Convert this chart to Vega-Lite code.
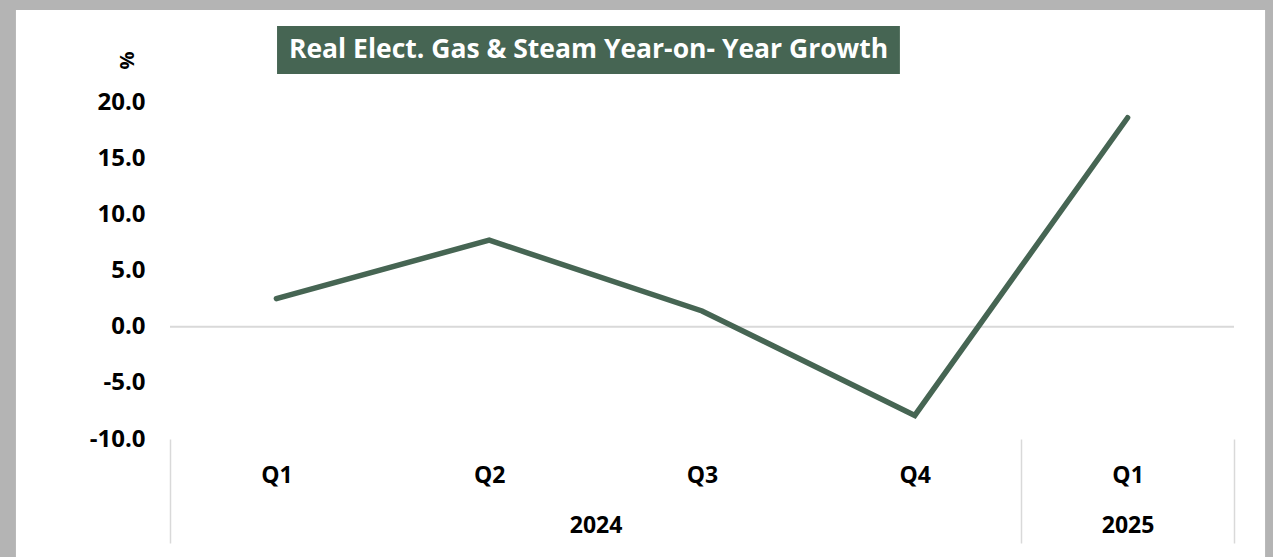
{
  "$schema": "https://vega.github.io/schema/vega-lite/v6.json",
  "width": 1064,
  "height": 337,
  "autosize": {"type": "none"},
  "padding": {"left": 170, "top": 102, "right": 39, "bottom": 118},
  "background": "#b4b4b4",
  "config": {"view": {"stroke": null}, "font": "Open Sans"},
  "data": {"values": [
    {"q": 1, "quarter": "Q1", "year": "2024", "value": 2.5},
    {"q": 2, "quarter": "Q2", "year": "2024", "value": 7.7},
    {"q": 3, "quarter": "Q3", "year": "2024", "value": 1.4},
    {"q": 4, "quarter": "Q4", "year": "2024", "value": -7.9},
    {"q": 5, "quarter": "Q1", "year": "2025", "value": 18.6}
  ]},
  "resolve": {"axis": {"x": "independent", "y": "independent"}},
  "layer": [
    {
      "data": {"values": [{}]},
      "mark": {"type": "rect", "color": "white"},
      "encoding": {
        "x": {"datum": -0.224, "type": "quantitative", "scale": {"domain": [0.5, 5.5], "nice": false, "zero": false}, "axis": null},
        "x2": {"datum": 5.646},
        "y": {"datum": 28.19, "type": "quantitative", "scale": {"domain": [-10, 20], "nice": false, "zero": false}, "axis": null},
        "y2": {"datum": -25}
      }
    },
    {
      "data": {"values": [{}]},
      "mark": {"type": "rule", "color": "#d9d9d9", "strokeWidth": 2},
      "encoding": {
        "y": {"datum": 0, "type": "quantitative", "scale": {"domain": [-10, 20], "nice": false, "zero": false}, "axis": null}
      }
    },
    {
      "data": {"values": [{}]},
      "mark": {"type": "rect", "color": "#466553"},
      "encoding": {
        "x": {"datum": 1.003, "type": "quantitative", "scale": {"domain": [0.5, 5.5], "nice": false, "zero": false}, "axis": null},
        "x2": {"datum": 3.93},
        "y": {"datum": 26.77, "type": "quantitative", "scale": {"domain": [-10, 20], "nice": false, "zero": false}, "axis": null},
        "y2": {"datum": 22.49}
      }
    },
    {
      "data": {"values": [{}]},
      "mark": {"type": "text", "text": "Real Elect. Gas & Steam Year-on- Year Growth", "color": "white", "fontWeight": "bold", "fontSize": 26.5, "font": "Open Sans", "align": "center", "baseline": "middle"},
      "encoding": {
        "x": {"datum": 2.467, "type": "quantitative", "scale": {"domain": [0.5, 5.5], "nice": false, "zero": false}, "axis": null},
        "y": {"datum": 24.63, "type": "quantitative", "scale": {"domain": [-10, 20], "nice": false, "zero": false}, "axis": null}
      }
    },
    {
      "mark": {"type": "line", "color": "#466553", "strokeWidth": 5.5, "strokeCap": "round"},
      "encoding": {
        "x": {"field": "q", "type": "quantitative", "scale": {"domain": [0.5, 5.5], "nice": false, "zero": false},
          "axis": {"orient": "bottom", "zindex": 1, "values": [1, 2, 3, 4, 5], "labelExpr": "['','Q1','Q2','Q3','Q4','Q1'][datum.value]", "ticks": false, "tickSize": 0, "domain": false, "grid": false, "title": null, "labelPadding": 36, "labelBaseline": "middle", "labelFontSize": 23, "labelFontWeight": "bold", "labelColor": "black", "labelFont": "Open Sans"}},
        "y": {"field": "value", "type": "quantitative", "scale": {"domain": [-10, 20], "nice": false, "zero": false},
          "axis": {"orient": "left", "zindex": 1, "values": [-10, -5, 0, 5, 10, 15, 20], "format": ".1f", "labelExpr": "replace(datum.label, '\u2212', '-')", "domain": false, "ticks": false, "tickSize": 0, "grid": false, "labelPadding": 25, "labelFontSize": 24, "labelFontWeight": "bold", "labelColor": "black", "labelFont": "Open Sans",
            "title": "%", "titleFontSize": 20, "titleFontWeight": "bold", "titleColor": "black", "titleAngle": -90, "titleX": -43, "titleY": -42, "titleAlign": "center", "titleBaseline": "middle"}}
      }
    },
    {
      "mark": {"type": "line", "opacity": 0},
      "encoding": {
        "x": {"field": "q", "type": "quantitative", "scale": {"domain": [0.5, 5.5], "nice": false, "zero": false},
          "axis": {"orient": "bottom", "zindex": 1, "values": [0.5, 4.5, 5.5], "labels": false, "domain": false, "grid": false, "ticks": true, "tickSize": 104, "tickColor": "#d9d9d9", "tickWidth": 1.5, "title": null}},
        "y": {"field": "value", "type": "quantitative", "scale": {"domain": [-10, 20], "nice": false, "zero": false}, "axis": null}
      }
    },
    {
      "mark": {"type": "line", "opacity": 0},
      "encoding": {
        "x": {"field": "q", "type": "quantitative", "scale": {"domain": [0.5, 5.5], "nice": false, "zero": false},
          "axis": {"orient": "bottom", "zindex": 1, "values": [2.5, 5], "labelExpr": "datum.value < 4 ? '2024' : '2025'", "ticks": false, "tickSize": 0, "domain": false, "grid": false, "title": null, "labelPadding": 86, "labelBaseline": "middle", "labelFontSize": 23, "labelFontWeight": "bold", "labelColor": "black", "labelFont": "Open Sans"}},
        "y": {"field": "value", "type": "quantitative", "scale": {"domain": [-10, 20], "nice": false, "zero": false}, "axis": null}
      }
    }
  ]
}
